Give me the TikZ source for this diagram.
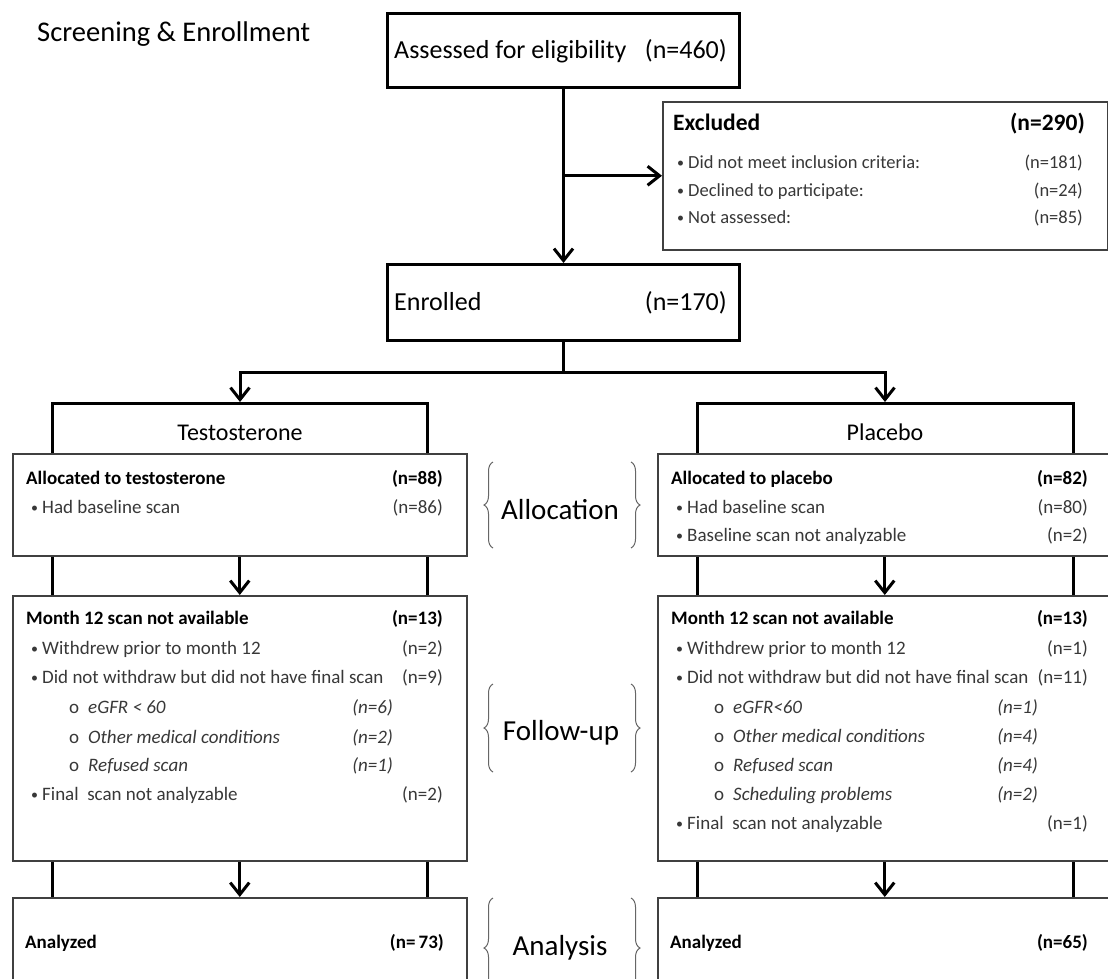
\documentclass[tikz,border=0pt]{standalone}
\usepackage{fontspec}
\setmainfont{Carlito}
\usetikzlibrary{arrows.meta,decorations.pathreplacing}
\newcommand\myfs[1]{\fontsize{#1}{#1}\selectfont}
\newcommand\mybul{\makebox[11pt][l]{\raisebox{1pt}{\myfs{14}•}}}
\newcommand\mysubb{\makebox[19pt][l]{\upshape o}}
\begin{document}
\begin{tikzpicture}[x=1pt,y=-1pt,
  thickbox/.style={draw=black,line width=3pt,fill=white,inner sep=0pt,anchor=north west},
  thinbox/.style={draw=black!75,line width=1.5pt,fill=white,inner sep=0pt,anchor=north west},
  frameline/.style={line width=3pt,line join=miter},
  conn/.style={line width=3pt},
  arr/.style={line width=3pt,-{Straight Barb[length=12pt,width=19pt]}},
  brc/.style={draw=black!60,line width=1pt,decorate,decoration={brace,amplitude=9pt}},
  bigtxt/.style={inner sep=0pt,font=\myfs{26}},
  ttl/.style={inner sep=0pt,font=\myfs{19}\bfseries},
  itm/.style={inner sep=0pt,font=\myfs{19},text=black!78},
  sub/.style={inner sep=0pt,font=\myfs{19}\itshape,text=black!78},
  exitm/.style={inner sep=0pt,font=\myfs{18.5},text=black!78},
  phase/.style={inner sep=0pt,font=\myfs{29},anchor=base},
  arm/.style={inner sep=0pt,font=\myfs{24},anchor=base}
]
\useasboundingbox (0,0) rectangle (1108,978);
\clip (0,0) rectangle (1108,978);
\fill[white] (0,0) rectangle (1108,978);

% ---------- screening ----------
\node[inner sep=0pt,font=\myfs{28.5},anchor=base west] (scr) at (37,41) {Screening \& Enrollment};

\node[thickbox,minimum width=352pt,minimum height=74pt] (assess) at (386,12) {};
\node[bigtxt,anchor=base west] (assessT) at (394,58) {Assessed for eligibility};
\node[bigtxt,anchor=base east] (assessN) at (727,58) {(n=460)};

\node[thinbox,minimum width=445pt,minimum height=148pt] (excl) at (662,101) {};
\node[inner sep=0pt,font=\myfs{23.5}\bfseries,anchor=base west] (exT) at (673,130) {Excluded};
\node[inner sep=0pt,font=\myfs{23.5}\bfseries,anchor=base east] (exN) at (1085,130) {(n=290)};
\node[exitm,anchor=base west] (ex1) at (677,168) {\mybul Did not meet inclusion criteria:};
\node[exitm,anchor=base east] (ex1n) at (1083,168) {(n=181)};
\node[exitm,anchor=base west] (ex2) at (677,196) {\mybul Declined to participate:};
\node[exitm,anchor=base east] (ex2n) at (1083,196) {(n=24)};
\node[exitm,anchor=base west] (ex3) at (677,223) {\mybul Not assessed:};
\node[exitm,anchor=base east] (ex3n) at (1083,223) {(n=85)};

\node[thickbox,minimum width=352pt,minimum height=76pt] (enrol) at (386,263) {};
\node[bigtxt,anchor=base west] (enrolT) at (394,310) {Enrolled};
\node[bigtxt,anchor=base east] (enrolN) at (727,310) {(n=170)};

\coordinate (br) at (assess.south |- excl.west);
\draw[arr] (assess.south) -- (enrol.north);
\draw[arr] (br) -- (excl.west);

% ---------- arm frames ----------
\coordinate (tTop) at (240,403);
\coordinate (pTop) at (885,403);
\coordinate (split) at (enrol.south |- 0,372);
\draw[frameline] (52,910) -- (52,403) -- (427,403) -- (427,910);
\draw[frameline] (697,910) -- (697,403) -- (1073,403) -- (1073,910);
\node[arm] (tHead) at (240,440) {Testosterone};
\node[arm] (pHead) at (885,440) {Placebo};

\draw[conn] (enrol.south) -- (split);
\draw[arr,shorten >=1pt] (split) -| (tTop);
\draw[arr,shorten >=1pt] (split) -| (pTop);

% ---------- boxes ----------
\node[thinbox,minimum width=454pt,minimum height=102pt] (tA) at (12,453) {};
\node[thinbox,minimum width=454pt,minimum height=265pt] (tF) at (12,595) {};
\node[thinbox,minimum width=454pt,minimum height=102pt] (tN) at (12,897) {};
\node[thinbox,minimum width=454pt,minimum height=102pt] (pA) at (657,453) {};
\node[thinbox,minimum width=454pt,minimum height=265pt] (pF) at (657,595) {};
\node[thinbox,minimum width=454pt,minimum height=102pt] (pN) at (657,897) {};

\draw[arr] (tA.south) -- (tF.north);
\draw[arr] (tF.south) -- (tN.north);
\draw[arr] (pA.south) -- (pF.north);
\draw[arr] (pF.south) -- (pN.north);

% testosterone allocation
\node[ttl,anchor=base west] (tA1) at (26,484) {Allocated to testosterone};
\node[ttl,anchor=base east] (tA1n) at (443,484) {(n=88)};
\node[itm,anchor=base west] (tA2) at (31,513) {\mybul Had baseline scan};
\node[itm,anchor=base east] (tA2n) at (443,513) {(n=86)};

% placebo allocation
\node[ttl,anchor=base west] (pA1) at (671,484) {Allocated to placebo};
\node[ttl,anchor=base east] (pA1n) at (1088,484) {(n=82)};
\node[itm,anchor=base west] (pA2) at (676,513) {\mybul Had baseline scan};
\node[itm,anchor=base east] (pA2n) at (1088,513) {(n=80)};
\node[itm,anchor=base west] (pA3) at (676,541) {\mybul Baseline scan not analyzable};
\node[itm,anchor=base east] (pA3n) at (1088,541) {(n=2)};

% testosterone follow-up
\node[ttl,anchor=base west] (tF1) at (26,624) {Month 12 scan not available};
\node[ttl,anchor=base east] (tF1n) at (443,624) {(n=13)};
\node[itm,anchor=base west] (tF2) at (31,654) {\mybul Withdrew prior to month 12};
\node[itm,anchor=base east] (tF2n) at (443,654) {(n=2)};
\node[itm,anchor=base west] (tF3) at (31,683) {\mybul Did not withdraw but did not have final scan};
\node[itm,anchor=base east] (tF3n) at (443,683) {(n=9)};
\node[sub,anchor=base west] (tF4) at (69,713) {\mysubb eGFR < 60};
\node[sub,anchor=base east] (tF4n) at (393,713) {(n=6)};
\node[sub,anchor=base west] (tF5) at (69,743) {\mysubb Other medical conditions};
\node[sub,anchor=base east] (tF5n) at (393,743) {(n=2)};
\node[sub,anchor=base west] (tF6) at (69,771) {\mysubb Refused scan};
\node[sub,anchor=base east] (tF6n) at (393,771) {(n=1)};
\node[itm,anchor=base west] (tF7) at (31,800) {\mybul Final\ \ scan not analyzable};
\node[itm,anchor=base east] (tF7n) at (443,800) {(n=2)};

% placebo follow-up
\node[ttl,anchor=base west] (pF1) at (671,624) {Month 12 scan not available};
\node[ttl,anchor=base east] (pF1n) at (1088,624) {(n=13)};
\node[itm,anchor=base west] (pF2) at (676,654) {\mybul Withdrew prior to month 12};
\node[itm,anchor=base east] (pF2n) at (1088,654) {(n=1)};
\node[itm,anchor=base west] (pF3) at (676,683) {\mybul Did not withdraw but did not have final scan};
\node[itm,anchor=base east] (pF3n) at (1088,683) {(n=11)};
\node[sub,anchor=base west] (pF4) at (714,713) {\mysubb eGFR<60};
\node[sub,anchor=base east] (pF4n) at (1038,713) {(n=1)};
\node[sub,anchor=base west] (pF5) at (714,742) {\mysubb Other medical conditions};
\node[sub,anchor=base east] (pF5n) at (1038,742) {(n=4)};
\node[sub,anchor=base west] (pF6) at (714,771) {\mysubb Refused scan};
\node[sub,anchor=base east] (pF6n) at (1038,771) {(n=4)};
\node[sub,anchor=base west] (pF7) at (714,800) {\mysubb Scheduling problems};
\node[sub,anchor=base east] (pF7n) at (1038,800) {(n=2)};
\node[itm,anchor=base west] (pF8) at (676,829) {\mybul Final\ \ scan not analyzable};
\node[itm,anchor=base east] (pF8n) at (1088,829) {(n=1)};

% analysis
\node[ttl,anchor=base west] (tN1) at (25,948) {Analyzed};
\node[ttl,anchor=base east] (tN1n) at (444,948) {(n=\,73)};
\node[ttl,anchor=base west] (pN1) at (670,948) {Analyzed};
\node[ttl,anchor=base east] (pN1n) at (1088,948) {(n=65)};

% ---------- phase labels ----------
\draw[brc] (493,548) -- (493,462);
\draw[brc] (631,462) -- (631,548);
\node[phase] (lAlloc) at (560,519) {Allocation};

\draw[brc] (493,772) -- (493,684);
\draw[brc] (631,684) -- (631,772);
\node[phase] (lFollow) at (561,740) {Follow-up};

\draw[brc] (493,998) -- (493,898);
\draw[brc] (631,898) -- (631,998);
\node[phase] (lAnal) at (560,955) {Analysis};
\end{tikzpicture}
\end{document}
